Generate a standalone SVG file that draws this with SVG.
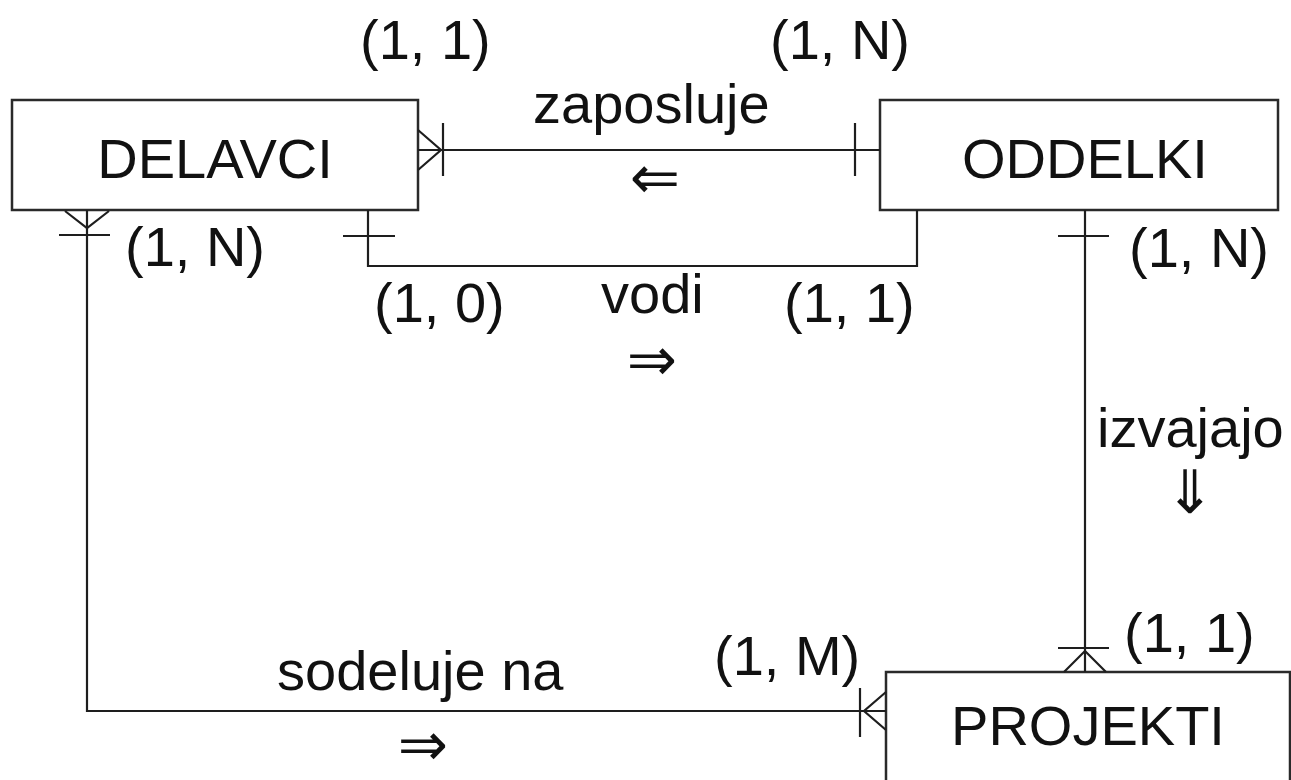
<svg xmlns="http://www.w3.org/2000/svg" width="1291" height="780" viewBox="0 0 1291 780">
  <style>
    .box { fill: #ffffff; stroke: #2a2a2a; stroke-width: 2.5; }
    .name { font-family: "Liberation Sans", Arial, sans-serif; font-size: 56px; fill: #111; text-anchor: middle; }
    .lbl { font-family: "Liberation Sans", Arial, sans-serif; font-size: 56px; fill: #111; }
    .arr { font-family: "DejaVu Sans", sans-serif; font-size: 60px; fill: #111; text-anchor: middle; }
    .rel { fill: none; stroke: #1e1e1e; stroke-width: 2.2; }
  </style>
  <rect width="1291" height="780" fill="#ffffff"/>

  <!-- entities -->
  <g id="delavci">
    <rect class="box" x="12" y="100" width="406" height="110"/>
    <text class="name" x="215" y="178">DELAVCI</text>
  </g>
  <g id="oddelki">
    <rect class="box" x="880" y="100" width="398" height="110"/>
    <text class="name" x="1085" y="178">ODDELKI</text>
  </g>
  <g id="projekti">
    <rect class="box" x="886" y="672" width="404" height="140"/>
    <text class="name" x="1088" y="745">PROJEKTI</text>
  </g>

  <!-- relationships -->
  <g id="connectors">
    <!-- zaposluje: DELAVCI (many) - ODDELKI (one) -->
    <path class="rel" d="M418 150 H880"/>
    <path class="rel" d="M418 130 L441 150 L418 170"/>
    <path class="rel" d="M443 123 V176"/>
    <path class="rel" d="M855 123 V176"/>

    <!-- vodi -->
    <path class="rel" d="M368 210 V266 H917 V210"/>
    <path class="rel" d="M343 236 H395"/>

    <!-- izvajajo: ODDELKI - PROJEKTI -->
    <path class="rel" d="M1085 210 V672"/>
    <path class="rel" d="M1058 236 H1109"/>
    <path class="rel" d="M1064 672 L1085 651 L1106 672"/>
    <path class="rel" d="M1058 648 H1109"/>

    <!-- sodeluje na: DELAVCI - PROJEKTI -->
    <path class="rel" d="M87 210 V711 H886"/>
    <path class="rel" d="M65 211 L87 228 L109 211"/>
    <path class="rel" d="M59 235 H110"/>
    <path class="rel" d="M886 692 L864 711 L886 730"/>
    <path class="rel" d="M860 688 V737"/>
  </g>

  <!-- cardinalities and relationship names -->
  <g id="labels">
    <text class="lbl" x="360" y="59">(1, 1)</text>
    <text class="lbl" x="770" y="59">(1, N)</text>
    <text class="lbl" x="533" y="123">zaposluje</text>
    <text class="arr" x="655" y="198">⇐</text>

    <text class="lbl" x="125" y="266">(1, N)</text>
    <text class="lbl" x="374" y="322">(1, 0)</text>
    <text class="lbl" x="784" y="322">(1, 1)</text>
    <text class="lbl" x="601" y="313">vodi</text>
    <text class="arr" x="652" y="380">⇒</text>

    <text class="lbl" x="1129" y="267">(1, N)</text>
    <text class="lbl" x="1097" y="447">izvajajo</text>
    <text class="arr" x="1190" y="513">⇓</text>

    <text class="lbl" x="1124" y="652">(1, 1)</text>
    <text class="lbl" x="714" y="675">(1, M)</text>
    <text class="lbl" x="277" y="690">sodeluje na</text>
    <text class="arr" x="423" y="765">⇒</text>
  </g>
</svg>
